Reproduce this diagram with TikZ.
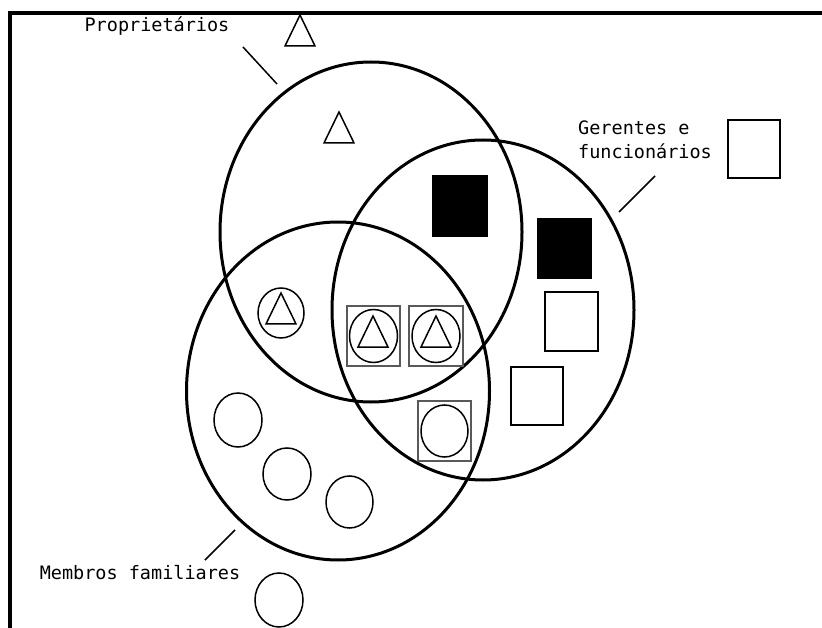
\documentclass[tikz,border=0pt]{standalone}
\usepackage{fontspec}
\setmonofont{DejaVu Sans Mono}
\usetikzlibrary{shapes.geometric}

\begin{document}
\begin{tikzpicture}[x=1pt,y=-1pt]
      \tikzset{grupo/.style={ellipse,draw,line width=3pt,inner sep=0pt,minimum width=302pt,minimum height=340pt}}
      \tikzset{rotulo/.style={font=\ttfamily\fontsize{18.5}{24}\selectfont,inner sep=0pt}}
      \tikzset{quad/.style={rectangle,draw,line width=1.5pt,inner sep=0pt,minimum width=53pt,minimum height=59pt}}
      \tikzset{cheio/.style={quad,fill=black}}
      \tikzset{caixa/.style={quad,draw=black!65}}
      \tikzset{membro/.style={ellipse,draw,line width=1.5pt,inner sep=0pt,minimum width=48pt,minimum height=53pt}}
      \tikzset{tracinho/.style={line width=1.5pt}}
      \def\triangulo#1{\draw[line width=1.5pt] ([shift={(0,-16)}]#1) -- ++(15,31) -- ++(-30,0) -- cycle;}

      \useasboundingbox (0,0) rectangle (822,628);
      \draw[line width=4pt] (10,628) -- (10,13) -- (822,13);

      % os tres grupos
      \node[grupo] (propr) at (371,232) {};
      \node[grupo] (geren) at (483,310) {};
      \node[grupo,minimum width=303pt,minimum height=338pt] (membr) at (338,391) {};

      % rotulos
      \node[rotulo] (lblpropr) at (157,26) {Proprietários};
      \node[rotulo,align=left,anchor=west] (lblgeren) at (578,140) {Gerentes e\\funcionários};
      \node[rotulo] (lblmembr) at (140,573) {Membros familiares};
      \coordinate (ppa) at (243,47); \coordinate (ppb) at (277,84);
      \coordinate (gga) at (655,176); \coordinate (ggb) at (619,212);
      \coordinate (mma) at (205,560); \coordinate (mmb) at (235,530);
      \draw[tracinho] (ppa) -- (ppb);
      \draw[tracinho] (gga) -- (ggb);
      \draw[tracinho] (mma) -- (mmb);

      % proprietarios
      \coordinate (tri1) at (300,31);
      \coordinate (tri2) at (339,128);
      \triangulo{tri1}
      \triangulo{tri2}

      % gerentes e funcionarios
      \node[quad,minimum width=52pt,minimum height=58pt] (q1) at (754,149) {};
      \node[cheio,minimum width=54pt,minimum height=60pt] (q2) at (460,206) {};
      \node[cheio] (q3) at (564.5,248.5) {};
      \node[quad] (q4) at (571.5,321.5) {};
      \node[quad,minimum width=52pt,minimum height=58pt] (q5) at (537,396) {};

      % membros familiares
      \node[membro,minimum width=46pt,minimum height=50pt] (m1) at (281,313) {};
      \coordinate (tri3) at (281,309);
      \triangulo{tri3}
      \node[membro,minimum height=54pt] (m2) at (238,420) {};
      \node[membro,minimum height=52pt] (m3) at (287,474) {};
      \node[membro,minimum width=47pt,minimum height=52pt] (m4) at (349.5,502) {};
      \node[membro,minimum height=54pt] (m5) at (279,600) {};

      % interseccoes
      \node[caixa,minimum height=60pt] (c1) at (373.5,336) {};
      \node[membro] (c1m) at (c1) {};
      \coordinate (tri4) at (373,332);
      \triangulo{tri4}
      \node[caixa,minimum width=54pt,minimum height=60pt] (c2) at (436,336) {};
      \node[membro] (c2m) at (c2) {};
      \coordinate (tri5) at (436,332);
      \triangulo{tri5}
      \node[caixa,minimum height=60pt] (c3) at (444.5,431) {};
      \node[membro,minimum width=47pt,minimum height=52pt] (c3m) at (c3) {};
\end{tikzpicture}
\end{document}
